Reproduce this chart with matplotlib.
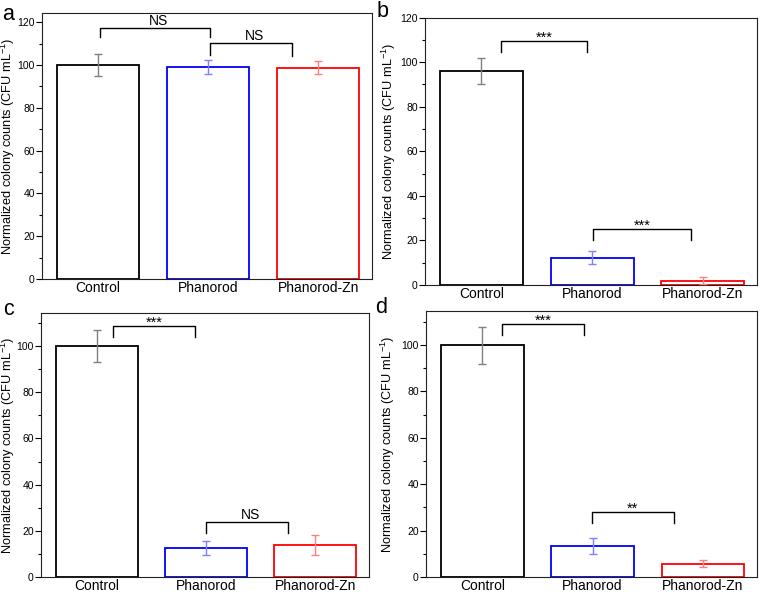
import matplotlib
matplotlib.use("Agg")
import matplotlib.pyplot as plt
from matplotlib.ticker import MultipleLocator

plt.rcParams['font.family'] = ['Liberation Sans', 'DejaVu Sans']
plt.rcParams['mathtext.fontset'] = 'custom'
plt.rcParams['mathtext.rm'] = 'Liberation Sans'
plt.rcParams['mathtext.it'] = 'Liberation Sans:italic'

### DATA ###
categories = ["Control", "Phanorod", "Phanorod-Zn"]

values_a = [100, 99, 98.8]
errors_a = [5, 3.2, 3]
values_b = [96, 12.3, 2]
errors_b = [6, 3, 1.5]
values_c = [100, 12.5, 14]
errors_c = [7, 3, 4.3]
values_d = [100, 13.5, 5.8]
errors_d = [8, 3.5, 1.6]

# brackets: (x start, x end, top, leg bottom left, leg bottom right, label)
brackets_a = [(0.02, 1.02, 117.2, 112.9, 112.9, "NS"),
              (1.02, 1.76, 110.2, 104.9, 104.4, "NS")]
brackets_b = [(0.18, 0.95, 109.3, 104.4, 104.4, "***"),
              (1.01, 1.89, 25.2, 20.2, 20.2, "***")]
brackets_c = [(0.15, 0.90, 108.5, 103.9, 103.9, "***"),
              (1.00, 1.75, 23.8, 18.9, 18.9, "NS")]
brackets_d = [(0.18, 0.92, 108.9, 104.2, 104.2, "***"),
              (0.99, 1.74, 28.2, 23.1, 23.1, "**")]

edge_colors = ["#000000", "#0000ff", "#ff0000"]
err_colors = ["#808080", "#7f7fff", "#ff7f7f"]

W, H = 760, 594


### HELPERS ###
def px_axes(fig, left, top, right, bottom):
    return fig.add_axes([left / W, 1 - bottom / H, (right - left) / W, (bottom - top) / H])


def draw_panel(ax, vals, errs, brackets, ytop, letter, letter_xy, label_gap, fig):
    x = list(range(len(categories)))
    ax.bar(x, vals, width=0.75, facecolor="white", edgecolor=edge_colors, linewidth=1.3, zorder=2)
    for xi, v, e, c in zip(x, vals, errs, err_colors):
        ax.errorbar(xi, v, yerr=e, color=c, capsize=3, elinewidth=1.0, capthick=1.0, zorder=3)

    # significance brackets
    for x0, x1, top, l0, l1, lab in brackets:
        ax.plot([x0, x0, x1, x1], [l0, top, top, l1], color="black", linewidth=1.0, zorder=4)
        if lab == "NS":
            ax.annotate(lab, ((x0 + x1) / 2 + 0.03, top), xytext=(0, 2.5), textcoords="offset points",
                        ha="center", va="baseline", fontsize=10)
        else:
            ax.annotate(lab, ((x0 + x1) / 2, top), xytext=(0, -0.5), textcoords="offset points",
                        ha="center", va="baseline", fontsize=10.5)

    ax.set_xlim(-0.51, 2.49)
    ax.set_ylim(0, ytop)
    ax.set_xticks(x)
    ax.set_xticklabels(categories, fontsize=10)
    ax.tick_params(axis="x", length=0, pad=1.5)
    ax.yaxis.set_major_locator(MultipleLocator(20))
    ax.yaxis.set_minor_locator(MultipleLocator(10))
    ax.tick_params(axis="y", which="major", direction="out", length=4, width=0.8, labelsize=7.5, pad=1.2)
    ax.tick_params(axis="y", which="minor", direction="out", length=2.5, width=0.8)
    for s in ax.spines.values():
        s.set_linewidth(0.8)
        s.set_color("#222222")

    ax.set_ylabel("Normalized colony counts (CFU mL$^{-1}$)", fontsize=9.2)
    bb = ax.get_position()
    ax.yaxis.set_label_coords(-label_gap / (bb.width * W), 0.5)

    fig.text(letter_xy[0] / W, 1 - letter_xy[1] / H, letter, fontsize=15.5,
             ha="left", va="baseline")


fig = plt.figure(figsize=(W / 100, H / 100), dpi=100)

ax_a = px_axes(fig, 42, 13, 372, 279)
draw_panel(ax_a, values_a, errors_a, brackets_a, 124.3, "a", (2, 20), 24.5, fig)

ax_b = px_axes(fig, 425, 17.5, 757, 285)
draw_panel(ax_b, values_b, errors_b, brackets_b, 120, "b", (377, 17), 27, fig)

ax_c = px_axes(fig, 41, 313, 369, 577)
draw_panel(ax_c, values_c, errors_c, brackets_c, 114.3, "c", (3, 315), 23.5, fig)

ax_d = px_axes(fig, 426, 311, 757, 577)
draw_panel(ax_d, values_d, errors_d, brackets_d, 114.7, "d", (375, 313), 29, fig)

fig.savefig("out.png", dpi=100)
